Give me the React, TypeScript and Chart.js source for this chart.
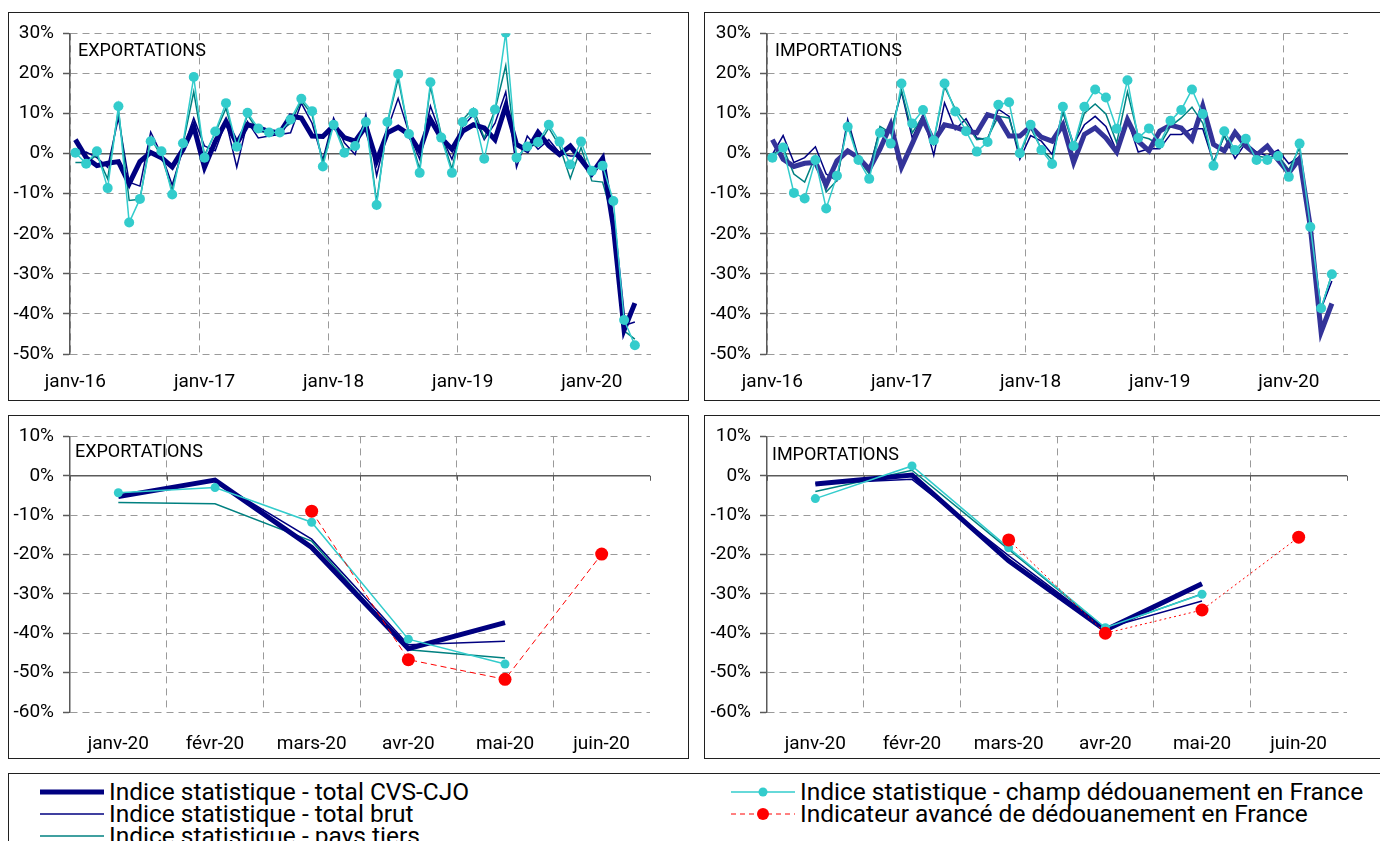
import React, { useEffect, useRef } from 'react';
import { Chart, registerables } from 'chart.js';

Chart.register(...registerables);

// ---------- categories ----------
const monthNames = ['janv', 'févr', 'mars', 'avr', 'mai', 'juin', 'juil', 'août', 'sept', 'oct', 'nov', 'déc'];
const years = ['16', '17', '18', '19', '20'];
const longLabels: string[] = [];
years.forEach((y) => monthNames.forEach((m) => longLabels.push(m + '-' + y)));
const longCategories = longLabels.slice(0, 54); // janv-16 .. juin-20
const shortCategories = ['janv-20', 'févr-20', 'mars-20', 'avr-20', 'mai-20', 'juin-20'];

const topYTicks = { min: -50, max: 30, step: 10 };
const bottomYTicks = { min: -60, max: 10, step: 10 };

// ---------- EXPORTATIONS, janv-16 .. mai-20 (%) ----------
const exportsCvs = [3.5, -1.0, -3.0, -2.4, -2.0, -7.5, -2.0, 0.3, -1.0, -3.3, 1.0, 6.8, -3.4, 3.0, 8.0, 2.5, 7.2, 6.5, 5.5, 5.2, 9.4, 8.9, 4.4, 4.3, 7.0, 4.0, 3.1, 6.8, -1.8, 5.2, 6.6, 4.8, 0.7, 8.5, 3.9, 1.1, 5.6, 7.2, 6.4, 3.5, 11.9, 2.3, 0.8, 5.3, 2.0, -0.2, 1.9, -1.5, -5.0, -1.2, -18.2, -44.0, -37.3];
const exportsBrut = [0.0, 0.4, -1.0, -3.4, 8.9, -7.1, -8.1, 5.4, -0.2, -7.8, 1.1, 8.9, 1.9, 0.7, 8.0, -3.4, 8.0, 3.9, 4.4, 4.8, 5.2, 12.6, 7.6, -1.6, 8.9, 2.7, -0.2, 9.7, -5.5, 6.0, 13.8, 5.2, -1.4, 11.9, 4.4, -1.4, 6.8, 9.7, 3.5, 7.6, 15.4, -3.4, 4.4, 1.1, 3.5, 0.2, -0.6, -0.6, -5.0, -1.3, -16.1, -42.9, -42.0];
const exportsTiers = [-2.2, -2.2, -0.4, -6.3, 10.9, -11.7, -11.4, 3.9, -0.6, -9.2, 2.3, 15.4, -0.4, 5.2, 11.3, 1.5, 9.7, 5.6, 5.2, 5.6, 7.6, 13.2, 9.7, -2.2, 7.6, 1.1, 1.2, 8.9, -12.1, 7.6, 18.7, 5.2, -3.9, 16.7, 4.8, -3.9, 8.5, 11.3, 3.9, 10.9, 22.0, -1.4, 2.3, 1.9, 6.4, 1.9, -6.2, 1.5, -6.8, -7.1, -16.6, -44.2, -46.3];
const exportsChamp = [0.2, -2.5, 0.6, -8.6, 11.8, -17.2, -11.3, 3.1, 0.6, -10.2, 2.6, 19.1, -1.0, 5.5, 12.6, 1.7, 10.2, 6.3, 5.3, 5.3, 8.5, 13.7, 10.6, -3.2, 7.2, 0.2, 1.9, 7.9, -12.8, 7.9, 19.9, 4.9, -4.8, 17.8, 4.0, -4.8, 7.9, 10.2, -1.3, 11.0, 30.2, -1.0, 1.8, 2.9, 7.2, 3.0, -2.7, 3.0, -4.3, -3.0, -11.8, -41.5, -47.8];

// ---------- IMPORTATIONS, janv-16 .. mai-20 (%) ----------
const importsCvs = [3.5, -1.4, -3.2, -2.4, -2.2, -7.8, -1.8, 0.7, -1.0, -3.9, 1.1, 7.2, -3.4, 2.5, 8.5, 3.1, 7.2, 6.6, 5.6, 5.2, 9.7, 8.9, 4.4, 4.4, 6.8, 4.1, 3.1, 7.2, -2.2, 4.8, 6.4, 3.9, 0.4, 8.5, 3.1, 0.7, 5.6, 7.1, 6.4, 3.5, 11.9, 2.3, 0.7, 5.3, 1.9, -0.4, 1.9, -1.6, -4.8, -1.2, -18.3, -44.5, -37.4];
const importsBrut = [-0.2, 4.5, -2.2, -1.0, 1.7, -5.1, -6.7, 8.5, -1.0, -3.9, 6.0, 5.2, 15.4, 3.9, 9.7, -0.4, 12.7, 6.0, 8.7, 3.9, 3.5, 11.1, 9.3, -1.4, 4.5, 3.1, -0.2, 10.5, 2.3, 7.2, 9.3, 6.8, 0.7, 8.5, 0.4, 1.2, 1.2, 4.8, 4.8, 6.2, 6.2, -2.2, 4.5, -1.2, 2.7, 0.4, -0.6, 0.9, -2.5, -0.8, -20.3, -38.7, -31.8];
const importsTiers = [-0.2, 1.5, -5.1, -7.1, -0.6, -9.6, -6.7, 7.6, -1.4, -5.1, 6.8, 5.2, 15.8, 5.2, 9.4, 3.1, 16.7, 11.1, 7.6, 3.5, 3.9, 9.3, 8.9, -0.2, 6.4, 1.2, -1.6, 10.5, 1.7, 10.1, 12.4, 9.9, 2.7, 15.4, 4.4, 3.7, 2.1, 6.8, 8.9, 11.6, 7.6, -2.2, 4.4, 0.2, 3.1, -0.6, -1.0, -0.4, -4.0, 1.4, -18.7, -38.7, -30.0];
const importsChamp = [-1.0, 1.5, -9.8, -11.2, -1.6, -13.7, -5.5, 6.7, -1.6, -6.3, 5.2, 2.5, 17.5, 7.5, 10.9, 3.3, 17.5, 10.5, 5.6, 0.5, 2.9, 12.2, 12.8, 0.1, 7.2, 0.9, -2.6, 11.7, 1.9, 11.7, 16.0, 14.0, 6.2, 18.3, 3.9, 6.3, 2.5, 8.2, 10.9, 16.0, 9.9, -3.0, 5.6, 0.9, 3.7, -1.6, -1.6, -0.6, -5.8, 2.5, -18.3, -38.6, -30.1];

// ---------- zoom janv-20 .. juin-20 (%) ----------
const expZoomCvs = [-5.3, -1.1, -18.2, -43.9, -37.3, null];
const expZoomBrut = [-5.0, -1.3, -16.1, -42.9, -42.0, null];
const expZoomTiers = [-6.8, -7.1, -16.6, -44.2, -46.3, null];
const expZoomChamp = [-4.3, -3.0, -11.8, -41.5, -47.8, null];
const expZoomAvance = [null, null, -9.0, -46.7, -51.7, -19.9];

const impZoomCvs = [-2.1, 0.2, -21.6, -39.2, -27.4, null];
const impZoomBrut = [-2.0, -0.9, -20.3, -38.7, -31.8, null];
const impZoomTiers = [-4.0, 1.4, -18.7, -38.7, -30.0, null];
const impZoomChamp = [-5.8, 2.5, -18.3, -38.6, -30.1, null];
const impZoomAvance = [null, null, -16.3, -40.0, -34.1, -15.6];

const seriesNames = [
  'Indice statistique - total CVS-CJO',
  'Indice statistique - total brut',
  'Indice statistique - pays tiers',
  'Indice statistique - champ dédouanement en France',
  'Indicateur avancé de dédouanement en France',
];

const NAVY = '#000080';
const INDIGO = '#333399';
const TEAL = '#008080';
const TURQ = '#33CCCC';
const RED = '#FF0000';
const GRID = '#9a9a9a';
const AXIS = '#5a5a5a';
const FONT = 'Roboto, "Liberation Sans", Arial, sans-serif';
const TICK_SIZE = 19;

// ---------- decoration plugin: zero line, axis ticks, panel title ----------
const panelDecor = {
  id: 'panelDecor',
  beforeDatasetsDraw(chart: any, _args: any, o: any) {
    const { ctx, chartArea, scales } = chart;
    const xs = scales.x;
    const y0 = scales.y.getPixelForValue(0);
    ctx.save();
    ctx.strokeStyle = AXIS;
    ctx.lineWidth = 1.5;
    ctx.setLineDash([]);
    ctx.beginPath();
    ctx.moveTo(chartArea.left, y0);
    ctx.lineTo(chartArea.right, y0);
    ctx.stroke();
    ctx.lineWidth = 1;
    const n = chart.data.labels.length;
    for (let i = 0; i <= n; i += o.every) {
      const x = Math.round(xs.getPixelForValue(i - 0.5)) + 0.5;
      ctx.beginPath();
      ctx.moveTo(x, y0);
      ctx.lineTo(x, y0 + 5);
      ctx.stroke();
    }
    ctx.restore();
  },
  afterDraw(chart: any, _args: any, o: any) {
    const { ctx, chartArea } = chart;
    ctx.save();
    ctx.fillStyle = '#000';
    ctx.font = '18px ' + FONT;
    ctx.textBaseline = 'middle';
    ctx.textAlign = 'left';
    ctx.fillText(o.title, chartArea.left + o.tx, chartArea.top + o.ty);
    ctx.restore();
  },
};

type PanelSpec = {
  labels: string[];
  datasets: any[];
  ticks: { min: number; max: number; step: number };
  every: number;
  showLabel: (i: number) => boolean;
  title: string;
  tx: number;
  ty: number;
  yWidth: number;
  xHeight: number;
  padRight: number;
  padTop: number;
  labelPad: number;
};

function buildConfig(p: PanelSpec): any {
  return {
    type: 'line',
    data: { labels: p.labels, datasets: p.datasets },
    plugins: [panelDecor],
    options: {
      responsive: false,
      animation: false,
      events: [],
      layout: { padding: { left: 0, right: p.padRight, top: p.padTop, bottom: 0 } },
      plugins: {
        legend: { display: false },
        tooltip: { enabled: false },
        panelDecor: { title: p.title, tx: p.tx, ty: p.ty, every: p.every },
      },
      scales: {
        x: {
          type: 'category',
          offset: true,
          grid: {
            offset: true,
            drawTicks: false,
            lineWidth: 1,
            color: (c: any) => (c.index % p.every === 0 ? GRID : 'rgba(0,0,0,0)'),
          },
          border: { display: false, dash: [7, 5] },
          ticks: {
            autoSkip: false,
            maxRotation: 0,
            minRotation: 0,
            padding: p.labelPad,
            color: '#000',
            font: { family: FONT, size: TICK_SIZE },
            callback: (_v: any, i: number) => (p.showLabel(i) ? p.labels[i] : ''),
          },
          afterFit: (s: any) => {
            s.height = p.xHeight;
          },
        },
        y: {
          min: p.ticks.min,
          max: p.ticks.max,
          grid: { color: GRID, lineWidth: 1, tickLength: 7, tickColor: AXIS, tickWidth: 1.5 },
          border: { display: true, color: AXIS, width: 1.5, dash: [7, 5] },
          ticks: {
            stepSize: p.ticks.step,
            padding: 9,
            color: '#000',
            font: { family: FONT, size: TICK_SIZE },
            callback: (v: any) => v + '%',
          },
          afterFit: (s: any) => {
            s.width = p.yWidth;
          },
        },
      },
    },
  };
}

function lineSet(label: string, data: any[], color: string, width: number, order: number, extra: any = {}) {
  return {
    label,
    data,
    borderColor: color,
    backgroundColor: color,
    borderWidth: width,
    pointRadius: 0,
    tension: 0,
    spanGaps: false,
    order,
    ...extra,
  };
}

function topDatasets(cvs: number[], brut: number[], tiers: number[], champ: number[], cvsColor: string) {
  return [
    lineSet(seriesNames[0], cvs, cvsColor, 5, 3),
    lineSet(seriesNames[1], brut, NAVY, 1.5, 5),
    lineSet(seriesNames[2], tiers, TEAL, 1.5, 4),
    lineSet(seriesNames[3], champ, TURQ, 1.5, 2, {
      pointRadius: 5,
      pointBorderWidth: 0,
      pointBackgroundColor: TURQ,
    }),
  ];
}

function zoomDatasets(cvs: any[], brut: any[], tiers: any[], champ: any[], avance: any[], dash: number[]) {
  return [
    lineSet(seriesNames[0], cvs, NAVY, 5, 3),
    lineSet(seriesNames[1], brut, NAVY, 1.5, 5),
    lineSet(seriesNames[2], tiers, TEAL, 1.5, 4),
    lineSet(seriesNames[3], champ, TURQ, 1.5, 2, {
      pointRadius: 4.5,
      pointBorderWidth: 0,
      pointBackgroundColor: TURQ,
    }),
    lineSet(seriesNames[4], avance, RED, 1, 1, {
      borderDash: dash,
      pointRadius: 6.5,
      pointBorderWidth: 0,
      pointBackgroundColor: RED,
    }),
  ];
}

const topCommon = {
  labels: longCategories,
  ticks: topYTicks,
  every: 12,
  showLabel: (i: number) => i % 12 === 0,
  xHeight: 46,
  padTop: 16,
  labelPad: 17,
};

const zoomCommon = {
  labels: shortCategories,
  ticks: bottomYTicks,
  every: 1,
  showLabel: () => true,
  xHeight: 46,
  padTop: 17,
  labelPad: 21,
};

const panels: { left: number; top: number; w: number; h: number; spec: PanelSpec }[] = [
  {
    left: 8,
    top: 12,
    w: 681,
    h: 389,
    spec: {
      ...topCommon,
      datasets: topDatasets(exportsCvs, exportsBrut, exportsTiers, exportsChamp, NAVY),
      title: 'EXPORTATIONS',
      tx: 8,
      ty: 18,
      yWidth: 61,
      padRight: 37,
    },
  },
  {
    left: 704,
    top: 12,
    w: 681,
    h: 389,
    spec: {
      ...topCommon,
      datasets: topDatasets(importsCvs, importsBrut, importsTiers, importsChamp, INDIGO),
      title: 'IMPORTATIONS',
      tx: 8,
      ty: 18,
      yWidth: 62,
      padRight: 36,
    },
  },
  {
    left: 8,
    top: 415,
    w: 681,
    h: 344,
    spec: {
      ...zoomCommon,
      datasets: zoomDatasets(expZoomCvs, expZoomBrut, expZoomTiers, expZoomChamp, expZoomAvance, [6, 4]),
      title: 'EXPORTATIONS',
      tx: 5,
      ty: 16,
      yWidth: 61,
      padRight: 38,
    },
  },
  {
    left: 704,
    top: 415,
    w: 681,
    h: 344,
    spec: {
      ...zoomCommon,
      datasets: zoomDatasets(impZoomCvs, impZoomBrut, impZoomTiers, impZoomChamp, impZoomAvance, [2, 3]),
      title: 'IMPORTATIONS',
      tx: 5,
      ty: 19,
      yWidth: 62,
      padRight: 37,
    },
  },
];

function ChartPanel({ left, top, w, h, spec }: { left: number; top: number; w: number; h: number; spec: PanelSpec }) {
  const ref = useRef<HTMLCanvasElement | null>(null);
  useEffect(() => {
    if (!ref.current) return;
    const chart = new Chart(ref.current, buildConfig(spec));
    return () => chart.destroy();
  }, []);
  return (
    <div
      style={{
        position: 'absolute',
        left,
        top,
        width: w,
        height: h,
        boxSizing: 'border-box',
        border: '1px solid #202020',
        background: '#fff',
      }}
    >
      <canvas ref={ref} width={w - 2} height={h - 2} style={{ display: 'block' }} />
    </div>
  );
}

type LegendItem = { name: string; color: string; width: number; dash?: string; dot?: number; x: number; y: number };

const legendItems: LegendItem[] = [
  { name: seriesNames[0], color: NAVY, width: 5, x: 30, y: 18 },
  { name: seriesNames[1], color: NAVY, width: 1.5, x: 30, y: 40 },
  { name: seriesNames[2], color: TEAL, width: 1.5, x: 30, y: 62 },
  { name: seriesNames[3], color: TURQ, width: 1.5, dot: 4.5, x: 721, y: 18 },
  { name: seriesNames[4], color: RED, width: 1, dash: '5 4', dot: 6, x: 721, y: 40 },
];

function Legend() {
  return (
    <div
      style={{
        position: 'absolute',
        left: 8,
        top: 773,
        width: 1400,
        height: 120,
        boxSizing: 'border-box',
        border: '1px solid #202020',
        background: '#fff',
        fontFamily: FONT,
      }}
    >
      {legendItems.map((it, k) => (
        <div key={k} style={{ position: 'absolute', left: it.x, top: it.y - 12, height: 24, display: 'flex', alignItems: 'center' }}>
          <svg width={66} height={24} style={{ display: 'block' }}>
            <line x1={1} y1={12} x2={65} y2={12} stroke={it.color} strokeWidth={it.width} strokeDasharray={it.dash} />
            {it.dot ? <circle cx={33} cy={12} r={it.dot} fill={it.color} /> : null}
          </svg>
          <span style={{ fontSize: 24.5, lineHeight: '24px', color: '#000', whiteSpace: 'nowrap', marginLeft: 4 }}>{it.name}</span>
        </div>
      ))}
    </div>
  );
}

export default function App() {
  return (
    <div style={{ position: 'absolute', left: 0, top: 0, width: 1380, height: 841, overflow: 'hidden', background: '#fff' }}>
      {panels.map((p, k) => (
        <ChartPanel key={k} {...p} />
      ))}
      <Legend />
    </div>
  );
}
